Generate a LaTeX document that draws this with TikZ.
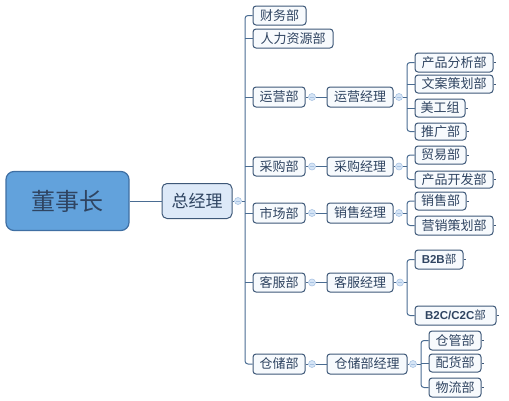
\documentclass[tikz,border=0pt]{standalone}
\usepackage{fontspec}
\newfontfamily\cjk{Noto Sans CJK SC}
\newfontfamily\lat{Liberation Sans}
\definecolor{bord}{HTML}{3E5878}
\definecolor{txt}{HTML}{2F4461}
\definecolor{lin}{HTML}{4A6C92}
\definecolor{ctlf}{HTML}{D6E5F6}
\definecolor{ctlb}{HTML}{A9C3E3}
\definecolor{topf}{HTML}{62A2DC}
\definecolor{topb}{HTML}{3F6FA3}
\definecolor{midf}{HTML}{DDE9F8}
\definecolor{boxf}{HTML}{F7FAFD}
\tikzset{
  box/.style={draw=bord, fill=boxf, line width=1pt, rounded corners=3pt, inner sep=0pt,
    text=txt, font=\cjk\fontsize{13}{15}\selectfont},
  conn/.style={draw=lin, line width=1pt},
  ctl/.style={circle, draw=ctlb, fill=ctlf, line width=0.6pt, minimum size=7pt, inner sep=0pt,
    path picture={\draw[ctlb,line width=0.7pt] ([xshift=-2pt]path picture bounding box.center) -- ([xshift=2pt]path picture bounding box.center);}},
  stub/.style={draw=bord, line width=0.8pt}
}
\begin{document}
\begin{tikzpicture}[x=1pt,y=-1pt]
\useasboundingbox (0,0) rectangle (509,400);
% main nodes
\node[box, draw=topb, fill=topf, line width=1.2pt, rounded corners=8pt, minimum width=123pt, minimum height=59pt,
  font=\cjk\fontsize{24}{26}\selectfont] (dsz) at (67.5,201) {董事长};
\node[box, fill=midf, rounded corners=5pt, minimum width=70pt, minimum height=35pt,
  font=\cjk\fontsize{17}{19}\selectfont] (zjl) at (197,201) {总经理};
\node[ctl] (c0) at (238,201) {};
\coordinate (tr) at (245,201);
% level 2
\node[box, minimum width=53pt, minimum height=19pt] (cwb) at (279.5,15.5) {财务部};
\node[box, minimum width=80pt, minimum height=19pt] (rlzy) at (293,38.5) {人力资源部};
\node[box, minimum width=52pt, minimum height=20pt] (yyb) at (279,97) {运营部};
\node[box, minimum width=52pt, minimum height=19pt] (cgb) at (279,166.5) {采购部};
\node[box, minimum width=52pt, minimum height=20pt] (scb) at (279,213) {市场部};
\node[box, minimum width=52pt, minimum height=19pt] (kfb) at (279,282.5) {客服部};
\node[box, minimum width=52pt, minimum height=20pt] (ccb) at (279,364) {仓储部};
% circles after level 2
\node[ctl] (c1) at (312,97) {};
\node[ctl] (c2) at (312,166.5) {};
\node[ctl] (c3) at (312,213) {};
\node[ctl] (c4) at (312,282.5) {};
\node[ctl] (c5) at (312,364) {};
% managers
\node[box, minimum width=66pt, minimum height=20pt] (yyjl) at (360,97) {运营经理};
\node[box, minimum width=66pt, minimum height=19pt] (cgjl) at (360,166.5) {采购经理};
\node[box, minimum width=66pt, minimum height=20pt] (xsjl) at (360,213) {销售经理};
\node[box, minimum width=66pt, minimum height=19pt] (kfjl) at (360,282.5) {客服经理};
\node[box, minimum width=80pt, minimum height=20pt] (ccjl) at (367,364) {仓储部经理};
\node[ctl] (d1) at (399,97) {};
\node[ctl] (d2) at (399,166.5) {};
\node[ctl] (d3) at (399,213) {};
\node[ctl] (d4) at (400,282.5) {};
\node[ctl] (d5) at (413,364) {};
\coordinate (b1) at (407,97);
\coordinate (b2) at (407,166.5);
\coordinate (b3) at (407,213);
\coordinate (b4) at (407,282.5);
\coordinate (b5) at (421,364);
% leaves
\node[box, minimum width=78pt, minimum height=19pt] (cpfx) at (454,62.5) {产品分析部};
\node[box, minimum width=78pt, minimum height=18pt] (wacx) at (454,84) {文案策划部};
\node[box, minimum width=50pt, minimum height=18pt] (mgz) at (440,108) {美工组};
\node[box, minimum width=51pt, minimum height=17pt] (tgb) at (440.5,131.5) {推广部};
\node[box, minimum width=51pt, minimum height=18pt] (myb) at (440.5,155) {贸易部};
\node[box, minimum width=78pt, minimum height=17pt] (cpkf) at (454,179.5) {产品开发部};
\node[box, minimum width=51pt, minimum height=18pt] (xsb) at (440.5,201) {销售部};
\node[box, minimum width=78pt, minimum height=19pt] (yxch) at (454,225.5) {营销策划部};
\node[box, minimum width=48pt, minimum height=19pt, font=\lat\bfseries\fontsize{11.5}{13}\selectfont] (b2b) at (439,259.5) {B2B\cjk\mdseries 部};
\node[box, minimum width=81pt, minimum height=19pt, font=\lat\bfseries\fontsize{11.5}{13}\selectfont] (b2c) at (455.5,315.5) {B2C/C2C\cjk\mdseries 部};
\node[box, minimum width=52pt, minimum height=19pt] (cgb2) at (455,340.5) {仓管部};
\node[box, minimum width=52pt, minimum height=18pt] (phb) at (455,363) {配货部};
\node[box, minimum width=52pt, minimum height=19pt] (wlb) at (455,387.5) {物流部};
% connectors
\draw[conn] (dsz.east) -- (zjl.west);
\draw[conn] (zjl.east) -- (c0.west);
\draw[conn] (c0.east) -- (tr);
\draw[conn, rounded corners=3pt] (cwb.west) -- (cwb.west -| tr) -- (ccb.west -| tr) -- (ccb.west);
\foreach \n in {rlzy,yyb,cgb,scb,kfb} \draw[conn] (\n.west -| tr) -- (\n.west);
\foreach \a/\b/\m/\d in {yyb/c1/yyjl/d1, cgb/c2/cgjl/d2, scb/c3/xsjl/d3, kfb/c4/kfjl/d4, ccb/c5/ccjl/d5} {
  \draw[conn] (\a.east) -- (\b.west);
  \draw[conn] (\b.east) -- (\m.west);
  \draw[conn] (\m.east) -- (\d.west);
}
\draw[conn] (d1.east) -- (b1);
\draw[conn] (d2.east) -- (b2);
\draw[conn] (d3.east) -- (b3);
\draw[conn] (d4.east) -- (b4);
\draw[conn] (d5.east) -- (b5);
\draw[conn, rounded corners=3pt] (cpfx.west) -- (cpfx.west -| b1) -- (tgb.west -| b1) -- (tgb.west);
\draw[conn] (wacx.west -| b1) -- (wacx.west);
\draw[conn] (mgz.west -| b1) -- (mgz.west);
\draw[conn, rounded corners=3pt] (myb.west) -- (myb.west -| b2) -- (cpkf.west -| b2) -- (cpkf.west);
\draw[conn, rounded corners=3pt] (xsb.west) -- (xsb.west -| b3) -- (yxch.west -| b3) -- (yxch.west);
\draw[conn, rounded corners=3pt] (b2b.west) -- (b2b.west -| b4) -- (b2c.west -| b4) -- (b2c.west);
\draw[conn, rounded corners=3pt] (cgb2.west) -- (cgb2.west -| b5) -- (wlb.west -| b5) -- (wlb.west);
\draw[conn] (phb.west -| b5) -- (phb.west);
% small stubs on leaves
\foreach \n in {cpfx,wacx,mgz,tgb,myb,cpkf,xsb,yxch,b2b,b2c,cgb2,phb,wlb}
  \draw[stub] (\n.east) -- ++(2.5,0);
\end{tikzpicture}
\end{document}
